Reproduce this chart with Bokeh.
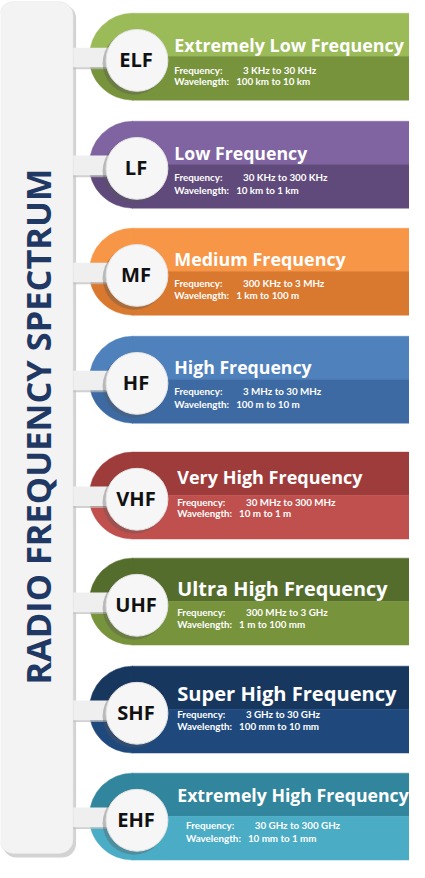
import math
from bokeh.plotting import figure
from bokeh.models import BoxAnnotation
from bokeh.core.properties import value
from bokeh.embed import file_html
from bokeh.resources import INLINE

# ---------------- data ----------------
abbrevs = ["ELF", "LF", "MF", "HF", "VHF", "UHF", "SHF", "EHF"]
names = ["Extremely Low Frequency", "Low Frequency", "Medium Frequency", "High Frequency",
         "Very High Frequency", "Ultra High Frequency", "Super High Frequency",
         "Extremely High Frequency"]
freq_ranges = ["3 KHz to 30 KHz", "30 KHz to 300 KHz", "300 KHz to 3 MHz", "3 MHz to 30 MHz",
               "30 MHz to 300 MHz", "300 MHz to 3 GHz", "3 GHz to 30 GHz", "30 GHz  to 300 GHz"]
wavelengths = ["100 km to 10 km", "10 km to 1 km", "1 km to 100 m", "100 m to 10 m",
               "10 m to 1 m", "1 m to 100 mm", "100 mm to 10 mm", "10 mm  to 1 mm"]
top_colors = ["#9bbb59", "#8064a2", "#f79646", "#4f81bd", "#9e3b3b", "#546d2c", "#17375e", "#31859c"]
bottom_colors = ["#77933c", "#604a7b", "#d9782f", "#3d6aa2", "#c0504d", "#77933c", "#1f497d", "#4bacc6"]
title = "RADIO FREQUENCY SPECTRUM"
freq_label = "Frequency:"
wave_label = "Wavelength:"

# ---------------- layout (reference pixels) ----------------
H_REF = 878
W, H = 409, 862
S = H / H_REF
band_top = [13, 123, 232, 342, 460, 568, 678, 787]
title_base = [32, 32, 31, 31, 25, 31, 28, 22]
det1 = [58, 57, 56, 56, 51, 55, 49, 53]
det2 = [69, 70, 68, 69, 62, 67, 61, 66]
text_x = [180, 180, 180, 180, 183, 183, 183, 183]
det_x = [180, 180, 180, 180, 183, 183, 183, 192]
title_fs = [18.2, 18, 18.2, 18, 18.3, 20.3, 20.5, 18]
HALF = 44
CX = 137


def Y(v):
    return H_REF - v


def fs(px):
    return f"{px * S:.1f}px"


p = figure(width=W, height=H, x_range=(3, 3 + W / S), y_range=(0, H_REF),
           output_backend="svg", toolbar_location=None, min_border=0,
           x_axis_location=None, y_axis_location=None)
p.grid.visible = False
p.outline_line_color = None
p.background_fill_color = "white"
p.border_fill_color = "white"

# left panel with shadow
p.add_layout(BoxAnnotation(left=5, right=80, top=Y(4), bottom=Y(873), border_radius=14,
                           fill_color="#b5b5b5", fill_alpha=0.6, line_color=None, level="underlay"))
p.add_layout(BoxAnnotation(left=2, right=77, top=Y(1), bottom=Y(869), border_radius=14,
                           fill_color="#f3f3f3", fill_alpha=1, line_color="#dcdcdc", line_width=1,
                           level="underlay"))

p.text(x=[41], y=[Y(434)], text=[title], angle=math.pi / 2, text_align="center",
       text_baseline="middle", text_font=value("Open Sans"), text_font_style="bold",
       text_font_size=fs(35), text_color="#1f3864")

for i, t in enumerate(band_top):
    mid = t + HALF
    bot = t + 2 * HALF + 0.5
    # top half
    p.quad(left=[CX], right=[430], top=[Y(t)], bottom=[Y(mid)], fill_color=top_colors[i],
           line_color=top_colors[i], line_width=0.5)
    p.wedge(x=[CX + 0.5], y=[Y(mid)], radius=HALF, start_angle=math.pi / 2, end_angle=math.pi,
            fill_color=top_colors[i], line_color=top_colors[i], line_width=0.5)
    # bottom half
    p.quad(left=[CX], right=[430], top=[Y(mid)], bottom=[Y(bot)], fill_color=bottom_colors[i],
           line_color=bottom_colors[i], line_width=0.5)
    p.wedge(x=[CX + 0.5], y=[Y(mid)], radius=bot - mid, start_angle=math.pi, end_angle=1.5 * math.pi,
            fill_color=bottom_colors[i], line_color=bottom_colors[i], line_width=0.5)
    # connector bar with shadow
    p.quad(left=[77], right=[125], top=[Y(t + 37)], bottom=[Y(t + 57)], fill_color="#bdbdbd",
           fill_alpha=0.7, line_color=None)
    p.quad(left=[77], right=[125], top=[Y(t + 35)], bottom=[Y(t + 55)], fill_color="#efefef",
           line_color=None)
    # circle with shadow
    cy = t + 48
    p.circle(x=[CX + 2], y=[Y(cy + 3)], radius=32, fill_color="#555555", fill_alpha=0.35, line_color=None)
    p.circle(x=[CX + 5], y=[Y(cy)], radius=31.5, fill_color="#f6f6f6", line_color="#e2e2e2", line_width=1)
    p.text(x=[CX + 4], y=[Y(cy - 1)], text=[abbrevs[i]], text_align="center", text_baseline="middle",
           text_font=value("Open Sans"), text_font_style="bold", text_font_size=fs(20.5),
           text_color="#111111")
    # titles
    p.text(x=[text_x[i]], y=[Y(t + title_base[i])], text=[names[i]], text_align="left",
           text_baseline="alphabetic", text_font=value("Open Sans"), text_font_style="bold",
           text_font_size=fs(title_fs[i]), text_color="white")
    # details
    for lab, val, off, dx in ((freq_label, freq_ranges[i], det1[i], 70), (wave_label, wavelengths[i], det2[i], 63)):
        p.text(x=[det_x[i]], y=[Y(t + off)], text=[lab], text_align="left", text_baseline="middle",
               text_font=value("Lato"), text_font_style="bold", text_font_size=fs(10),
               text_color="white")
        p.text(x=[det_x[i] + dx], y=[Y(t + off)], text=[val], text_align="left", text_baseline="middle",
               text_font=value("Lato"), text_font_style="bold", text_font_size=fs(10),
               text_color="white")

open("out.html", "w").write(file_html(p, INLINE))
